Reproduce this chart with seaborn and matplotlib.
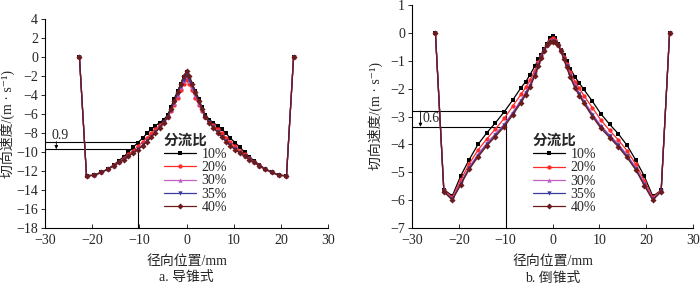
import matplotlib
matplotlib.use("Agg")
import matplotlib.pyplot as plt
from matplotlib.lines import Line2D
import seaborn as sns
import pandas as pd

sns.set_theme(style="ticks")
FAM = ['Liberation Serif', 'Noto Sans CJK SC', 'DejaVu Sans']
plt.rcParams['font.family'] = FAM
plt.rcParams['axes.unicode_minus'] = True

ratios = ["10%", "20%", "30%", "35%", "40%"]
colors = ["#000000", "#ff2a2a", "#c060c0", "#3a3aa0", "#6a1c1c"]
markers = ["s", "o", "^", "v", "D"]

# ---- panel a (导锥式) ----
xa = [-22.7, -21.2, -19.6, -18.1, -16.6, -15.4, -14.3, -13.3, -12.3, -11.3, -10.3, -9.3,
      -8.4, -7.5, -6.6, -5.7, -4.8, -4.0, -3.3, -2.6, -1.9, -1.2, -0.6, 0.0,
      0.6, 1.2, 1.9, 2.6, 3.3, 4.0, 4.8, 5.7, 6.6, 7.5, 8.4, 9.3, 10.3, 11.3,
      12.3, 13.3, 14.3, 15.4, 16.6, 18.1, 19.6, 21.2, 22.7]
a_10 = [0, -12.5, -12.45, -12.15, -11.75, -11.35, -10.9, -10.5, -10.0, -9.5, -9.0, -8.55,
        -8.05, -7.6, -7.25, -6.9, -6.6, -6.1, -5.3, -4.4, -3.6, -2.8, -2.1, -1.6,
        -2.1, -2.8, -3.6, -4.4, -5.3, -6.1, -6.6, -6.9, -7.25, -7.6, -8.05, -8.55, -9.0, -9.5,
        -10.0, -10.5, -10.9, -11.35, -11.75, -12.15, -12.45, -12.5, 0]
a_20 = [0, -12.5, -12.45, -12.15, -11.78, -11.4, -11.0, -10.65, -10.25, -9.85, -9.4, -8.95,
        -8.5, -8.05, -7.6, -7.2, -6.8, -6.3, -5.7, -5.0, -4.3, -3.5, -2.8, -2.4,
        -2.8, -3.5, -4.3, -5.0, -5.7, -6.3, -6.8, -7.2, -7.6, -8.05, -8.5, -8.95, -9.4, -9.85,
        -10.25, -10.65, -11.0, -11.4, -11.78, -12.15, -12.45, -12.5, 0]
a_30 = [0, -12.5, -12.45, -12.15, -11.8, -11.45, -11.08, -10.75, -10.4, -10.05, -9.65, -9.25,
        -8.8, -8.35, -7.85, -7.35, -6.85, -6.3, -5.6, -4.8, -4.0, -3.2, -2.5, -2.0,
        -2.5, -3.2, -4.0, -4.8, -5.6, -6.3, -6.85, -7.35, -7.85, -8.35, -8.8, -9.25, -9.65, -10.05,
        -10.4, -10.75, -11.08, -11.45, -11.8, -12.15, -12.45, -12.5, 0]
a_35 = [0, -12.5, -12.45, -12.15, -11.8, -11.45, -11.1, -10.78, -10.42, -10.08, -9.7, -9.3,
        -8.85, -8.4, -7.9, -7.4, -6.88, -6.3, -5.55, -4.75, -3.9, -3.1, -2.4, -1.9,
        -2.4, -3.1, -3.9, -4.75, -5.55, -6.3, -6.88, -7.4, -7.9, -8.4, -8.85, -9.3, -9.7, -10.08,
        -10.42, -10.78, -11.1, -11.45, -11.8, -12.15, -12.45, -12.5, 0]
a_40 = [0, -12.5, -12.45, -12.15, -11.8, -11.45, -11.1, -10.8, -10.45, -10.1, -9.75, -9.35,
        -8.9, -8.45, -7.95, -7.45, -6.9, -6.3, -5.5, -4.6, -3.7, -2.8, -2.0, -1.5,
        -2.0, -2.8, -3.7, -4.6, -5.5, -6.3, -6.9, -7.45, -7.95, -8.45, -8.9, -9.35, -9.75, -10.1,
        -10.45, -10.8, -11.1, -11.45, -11.8, -12.15, -12.45, -12.5, 0]

# ---- panel b (倒锥式) ----
xb = [-25.0, -23.2, -21.4, -19.6, -17.8, -15.9, -14.0, -12.2, -10.3, -8.5, -6.7, -5.7,
      -4.8, -3.8, -3.0, -2.4, -1.8, -1.2, -0.6, 0.0,
      0.6, 1.2, 1.8, 2.4, 3.0, 3.8, 4.8, 5.7, 6.7, 8.5, 10.3, 12.2, 14.0, 15.9,
      17.8, 19.6, 21.4, 23.2, 25.0]
b_10 = [0, -5.62, -5.85, -5.13, -4.55, -4.0, -3.58, -3.23, -2.83, -2.41, -1.96, -1.75,
        -1.5, -1.2, -0.95, -0.78, -0.58, -0.4, -0.18, -0.1,
        -0.18, -0.4, -0.6, -0.8, -1.0, -1.28, -1.58, -1.8, -2.03, -2.45, -2.9, -3.28, -3.61, -4.03,
        -4.57, -5.14, -5.86, -5.65, 0]
b_20 = [0, -5.65, -5.9, -5.28, -4.7, -4.2, -3.8, -3.45, -3.07, -2.63, -2.2, -1.95,
        -1.7, -1.35, -1.05, -0.82, -0.6, -0.42, -0.25, -0.18,
        -0.25, -0.42, -0.62, -0.85, -1.1, -1.42, -1.75, -1.98, -2.25, -2.68, -3.12, -3.5, -3.83, -4.22,
        -4.72, -5.3, -5.9, -5.66, 0]
b_30 = [0, -5.68, -5.95, -5.38, -4.82, -4.35, -3.95, -3.62, -3.27, -2.85, -2.4, -2.12,
        -1.85, -1.45, -1.12, -0.86, -0.62, -0.43, -0.3, -0.25,
        -0.3, -0.43, -0.64, -0.9, -1.17, -1.52, -1.88, -2.15, -2.43, -2.9, -3.32, -3.66, -3.98, -4.37,
        -4.84, -5.4, -5.95, -5.68, 0]
b_35 = [0, -5.68, -5.97, -5.42, -4.86, -4.4, -4.0, -3.67, -3.32, -2.9, -2.45, -2.17,
        -1.9, -1.5, -1.15, -0.88, -0.63, -0.43, -0.32, -0.28,
        -0.32, -0.43, -0.65, -0.92, -1.2, -1.56, -1.93, -2.2, -2.48, -2.95, -3.37, -3.71, -4.03, -4.42,
        -4.88, -5.44, -5.97, -5.69, 0]
b_40 = [0, -5.7, -6.0, -5.45, -4.9, -4.45, -4.05, -3.72, -3.37, -2.95, -2.5, -2.22,
        -1.95, -1.55, -1.2, -0.9, -0.64, -0.44, -0.33, -0.32,
        -0.33, -0.44, -0.66, -0.94, -1.23, -1.6, -1.98, -2.25, -2.53, -3.0, -3.42, -3.76, -4.08, -4.47,
        -4.92, -5.48, -6.0, -5.7, 0]

xticks = [-30, -20, -10, 0, 10, 20, 30]
a_yticks = [4, 2, 0, -2, -4, -6, -8, -10, -12, -14, -16, -18]
b_yticks = [1, 0, -1, -2, -3, -4, -5, -6, -7]


def long_df(x, series):
    rows = []
    for r, ys in zip(ratios, series):
        for xx, yy in zip(x, ys):
            rows.append({"x": xx, "y": yy, "ratio": r})
    return pd.DataFrame(rows)


fig = plt.figure(figsize=(7.0, 2.85), dpi=100)
axA = fig.add_axes([45 / 700, 57 / 285, 283 / 700, 209 / 285])
axB = fig.add_axes([412 / 700, 57 / 285, 281 / 700, 223 / 285])

pal = dict(zip(ratios, colors))
mk = dict(zip(ratios, markers))
FS = 10
MS = 3.1


def draw(ax, x, series, ylim, yticks, hl, vx, label_txt, label_pos, arrow_x,
         caption, cap_x, leg_anchor, ylpad):
    df = long_df(x, series)
    ax.plot([-30, vx], [hl[0], hl[0]], color="black", lw=0.8, zorder=1)
    ax.plot([-30, vx], [hl[1], hl[1]], color="black", lw=0.8, zorder=1)
    ax.plot([vx, vx], [ylim[0], hl[0]], color="black", lw=0.8, zorder=1)
    ax.annotate("", xy=(arrow_x, hl[1]), xytext=(arrow_x, hl[0]),
                arrowprops=dict(arrowstyle="-|>", color="black", lw=0.6,
                                mutation_scale=5, shrinkA=0, shrinkB=0))
    ax.text(label_pos[0], label_pos[1], label_txt, fontsize=FS, family=FAM,
            ha="left", va="center")
    for r in ratios:
        sub = df[df["ratio"] == r]
        sns.lineplot(data=sub, x="x", y="y", color=pal[r], marker=mk[r], sort=False,
                     estimator=None, legend=False, ax=ax, lw=0.9, markersize=MS,
                     markeredgewidth=0.0, zorder=3)
    ax.set_xlim(-30, 30)
    ax.set_ylim(*ylim)
    ax.set_xticks(xticks)
    ax.set_yticks(yticks)
    ax.tick_params(axis="x", direction="in", length=3, width=0.7, labelsize=FS, pad=4)
    ax.tick_params(axis="y", direction="out", length=3, width=0.7, labelsize=FS, pad=2)
    for lab in ax.get_xticklabels() + ax.get_yticklabels():
        lab.set_family(FAM)
    for s in ["top", "right"]:
        ax.spines[s].set_visible(False)
    for s in ["left", "bottom"]:
        ax.spines[s].set_linewidth(0.8)
        ax.spines[s].set_color("black")
    ax.set_xlabel("径向位置/mm", fontsize=FS, family=FAM, labelpad=6)
    ax.set_ylabel("切向速度/(m · s⁻¹)", fontsize=FS, family=FAM, labelpad=ylpad)
    fig.text(cap_x, 1 - 278 / 285, caption, ha="center", va="center",
             fontsize=FS, family=FAM)
    handles = [Line2D([], [], color=c, marker=m, lw=0.9, markersize=MS,
                      markeredgewidth=0) for c, m in zip(colors, markers)]
    leg = ax.legend(handles, ratios, title="分流比", frameon=False, loc="upper left",
                    bbox_to_anchor=leg_anchor, prop={"family": FAM, "size": FS},
                    handlelength=2.3, handletextpad=0.4, labelspacing=0.02,
                    borderpad=0.0, borderaxespad=0.0, alignment="left")
    leg.get_title().set_family(FAM)
    leg.get_title().set_fontsize(FS + 0.5)
    leg.get_title().set_fontweight("bold")


draw(axA, xa, [a_10, a_20, a_30, a_35, a_40], (-18, 4), a_yticks,
     (-8.9, -9.7), -10.2, "0.9", (-28.6, -8.25), -27.6, "a. 导锥式",
     (45 + 283 / 2) / 700, (0.42, 0.45), 1)
draw(axB, xb, [b_10, b_20, b_30, b_35, b_40], (-7, 1), b_yticks,
     (-2.8, -3.37), -10.0, "0.6", (-27.8, -3.08), -28.2, "b. 倒锥式",
     (412 + 281 / 2) / 700, (0.43, 0.42), 5)

fig.savefig("out.png", dpi=100)
